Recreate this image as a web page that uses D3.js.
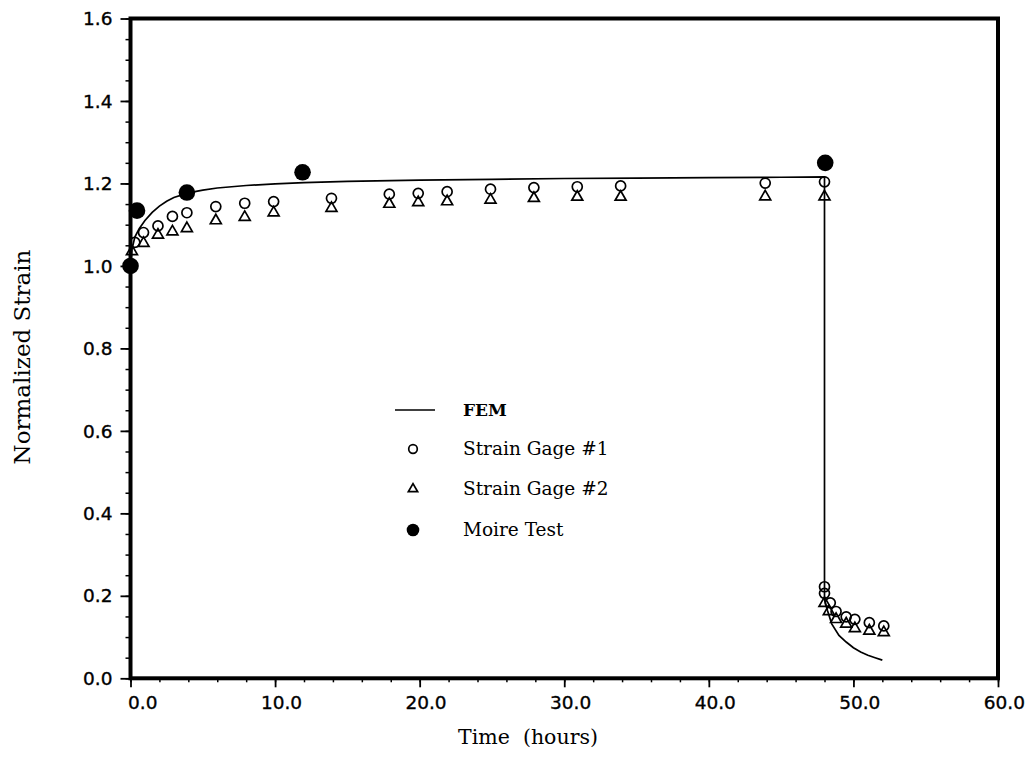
<!DOCTYPE html>
<html><head><meta charset="utf-8">
<script src="https://cdn.jsdelivr.net/npm/d3@7"></script>
<style>body{margin:0;background:#fff}svg{display:block}</style>
</head><body>
<script>
// ---- data ----
const xTicks = [0, 10, 20, 30, 40, 50, 60];
const yTicks = [0, 0.2, 0.4, 0.6, 0.8, 1.0, 1.2, 1.4, 1.6];

const femTime  = [0, 0.1, 0.3, 0.6, 1, 1.5, 2, 2.5, 3, 4, 5, 6, 8, 10, 12, 15, 20, 25, 30, 35, 40, 45, 48, 48, 48.2, 48.5, 49, 49.5, 50, 50.5, 51, 51.5, 52];
const femStrain= [1.0, 1.04, 1.07, 1.09, 1.11, 1.13, 1.145, 1.157, 1.166, 1.177, 1.184, 1.189, 1.195, 1.199, 1.202, 1.205, 1.208, 1.210, 1.212, 1.213, 1.214, 1.215, 1.216, 0.19, 0.165, 0.132, 0.104, 0.088, 0.074, 0.064, 0.056, 0.050, 0.044];

const gage1Time  = [0.3, 0.9, 1.9, 2.9, 3.9, 5.9, 7.9, 9.9, 13.9, 17.9, 19.9, 21.9, 24.9, 27.9, 30.9, 33.9, 43.9, 48.0, 48.0, 48.0, 48.4, 48.8, 49.5, 50.1, 51.1, 52.1];
const gage1Strain= [1.057, 1.081, 1.097, 1.120, 1.129, 1.144, 1.152, 1.156, 1.164, 1.174, 1.176, 1.180, 1.186, 1.190, 1.192, 1.194, 1.201, 1.204, 0.222, 0.206, 0.183, 0.162, 0.149, 0.143, 0.135, 0.127];

const gage2Time  = [0.1, 0.9, 1.9, 2.9, 3.9, 5.9, 7.9, 9.9, 13.9, 17.9, 19.9, 21.9, 24.9, 27.9, 30.9, 33.9, 43.9, 48.0, 48.0, 48.3, 48.8, 49.5, 50.1, 51.1, 52.1];
const gage2Strain= [1.035, 1.055, 1.075, 1.083, 1.091, 1.110, 1.118, 1.129, 1.140, 1.150, 1.154, 1.156, 1.160, 1.164, 1.167, 1.167, 1.168, 1.168, 0.182, 0.162, 0.143, 0.132, 0.121, 0.115, 0.111];

const moireTime  = [0, 0.45, 3.9, 11.9, 48.05];
const moireStrain= [1.0, 1.134, 1.178, 1.227, 1.25];

const legendLabels = ["FEM", "Strain Gage #1", "Strain Gage #2", "Moire Test"];

// ---- drawing ----
const W = 1032, H = 760;
const L = 130.5, R = 998, T = 18.5, B = 678.3;
const svg = d3.select("body").append("svg").attr("width", W).attr("height", H);
const x = d3.scaleLinear().domain([0, 60]).range([L, R]);
const y = d3.scaleLinear().domain([0, 1.6]).range([B, T]);

const tickFont = "'DejaVu Sans', sans-serif";
const serif = "'DejaVu Serif', serif";

const xMinor = d3.range(0, 61, 2);
const yMinor = d3.range(0, 1.601, 0.05);

svg.append("g").attr("transform", `translate(0,${B})`)
  .call(d3.axisBottom(x).tickValues(xMinor).tickSize(4).tickFormat(""))
  .call(g => g.select(".domain").remove())
  .call(g => g.selectAll("line").attr("stroke-width", 1.5));
svg.append("g").attr("transform", `translate(0,${B})`)
  .call(d3.axisBottom(x).tickValues(xTicks).tickSize(9).tickFormat(""))
  .call(g => g.select(".domain").remove())
  .call(g => g.selectAll("line").attr("stroke-width", 1.8));
svg.append("g").attr("transform", `translate(${L},0)`)
  .call(d3.axisLeft(y).tickValues(yMinor).tickSize(5).tickFormat(""))
  .call(g => g.select(".domain").remove())
  .call(g => g.selectAll("line").attr("stroke-width", 1.5));
svg.append("g").attr("transform", `translate(${L},0)`)
  .call(d3.axisLeft(y).tickValues(yTicks).tickSize(10).tickFormat(""))
  .call(g => g.select(".domain").remove())
  .call(g => g.selectAll("line").attr("stroke-width", 1.8));

// tick labels
svg.append("g").selectAll("text").data(xTicks).join("text")
  .attr("x", d => x(d) + 27).attr("y", B + 31)
  .attr("text-anchor", "end")
  .attr("font-family", tickFont).attr("font-size", 18.5)
  .attr("stroke", "#000").attr("stroke-width", 0.35)
  .text(d => d.toFixed(1));
svg.append("g").selectAll("text").data(yTicks).join("text")
  .attr("x", L - 18).attr("y", d => y(d)).attr("dy", "0.36em")
  .attr("text-anchor", "end")
  .attr("font-family", tickFont).attr("font-size", 18.5)
  .attr("stroke", "#000").attr("stroke-width", 0.35)
  .text(d => d.toFixed(1));

// frame
svg.append("rect").attr("x", L).attr("y", T).attr("width", R - L).attr("height", B - T)
  .attr("fill", "none").attr("stroke", "#000").attr("stroke-width", 4);

// axis titles
svg.append("text").attr("x", 528).attr("y", 744)
  .attr("text-anchor", "middle").attr("font-family", serif).attr("font-size", 20.5)
  .attr("xml:space", "preserve").style("white-space", "pre")
  .text("Time  (hours)");
svg.append("text").attr("transform", `translate(30,${357}) rotate(-90)`)
  .attr("text-anchor", "middle").attr("font-family", serif).attr("font-size", 23)
  .text("Normalized Strain");

// FEM line
const fem = femTime.map((t, i) => [t, femStrain[i]]);
svg.append("path").datum(fem)
  .attr("d", d3.line().x(d => x(d[0])).y(d => y(d[1])).curve(d3.curveLinear))
  .attr("fill", "none").attr("stroke", "#000").attr("stroke-width", 1.7);

// markers
const tri = d3.symbol().type(d3.symbolTriangle).size(52);
svg.append("g").selectAll("path").data(gage2Time.map((t, i) => [t, gage2Strain[i]])).join("path")
  .attr("d", tri).attr("transform", d => `translate(${x(d[0])},${y(d[1])})`)
  .attr("fill", "none").attr("stroke", "#000").attr("stroke-width", 1.7);
svg.append("g").selectAll("circle").data(gage1Time.map((t, i) => [t, gage1Strain[i]])).join("circle")
  .attr("cx", d => x(d[0])).attr("cy", d => y(d[1])).attr("r", 5)
  .attr("fill", "none").attr("stroke", "#000").attr("stroke-width", 1.7);
svg.append("g").selectAll("circle").data(moireTime.map((t, i) => [t, moireStrain[i]])).join("circle")
  .attr("cx", d => x(d[0])).attr("cy", d => y(d[1])).attr("r", 8.3)
  .attr("fill", "#000");

// legend
const lg = svg.append("g");
const lx = 413, tx = 463;
const rowsY = [410, 449, 489, 530];
lg.append("line").attr("x1", 395).attr("x2", 435).attr("y1", rowsY[0]).attr("y2", rowsY[0])
  .attr("stroke", "#000").attr("stroke-width", 1.7);
lg.append("circle").attr("cx", lx).attr("cy", rowsY[1]).attr("r", 4.3)
  .attr("fill", "none").attr("stroke", "#000").attr("stroke-width", 1.7);
lg.append("path").attr("d", d3.symbol().type(d3.symbolTriangle).size(38)())
  .attr("transform", `translate(${lx},${rowsY[2]})`)
  .attr("fill", "none").attr("stroke", "#000").attr("stroke-width", 1.7);
lg.append("circle").attr("cx", lx).attr("cy", rowsY[3]).attr("r", 6.3).attr("fill", "#000");
lg.selectAll("text").data(legendLabels).join("text")
  .attr("x", tx).attr("y", (d, i) => rowsY[i]).attr("dy", "0.35em")
  .attr("font-family", serif).attr("font-size", (d, i) => i === 0 ? 17 : 18.5)
  .attr("font-weight", (d, i) => i === 0 ? "bold" : "normal")
  .text(d => d);
</script>
</body></html>
